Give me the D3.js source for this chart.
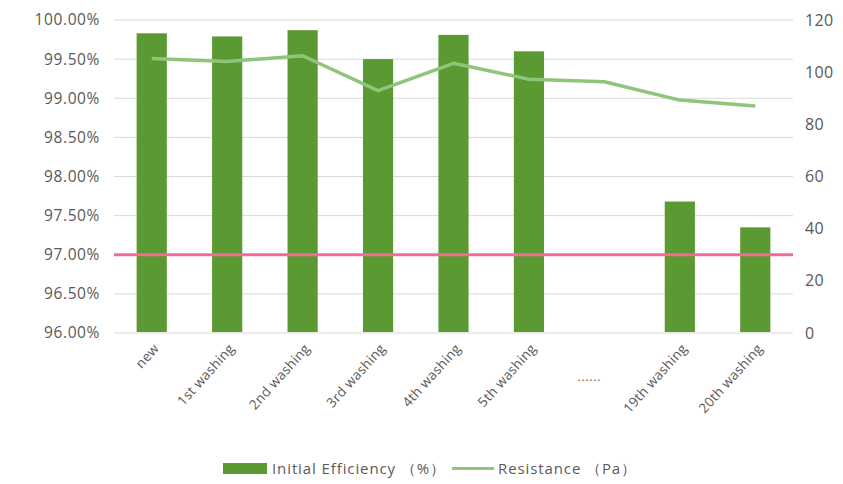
<!DOCTYPE html>
<html><head><meta charset="utf-8">
<script src="https://cdn.jsdelivr.net/npm/d3@7"></script>
<style>body{margin:0;background:#fff}svg{display:block}text{font-family:"Open Sans",sans-serif;fill:#595959}</style>
</head><body><svg id="c" width="843" height="484"></svg>
<script>
const categories = ["new","1st washing","2nd washing","3rd washing","4th washing","5th washing","......","19th washing","20th washing"];
const efficiency = [99.83,99.79,99.87,99.50,99.81,99.60,null,97.68,97.35];
const resistance = [105.2,104.1,106.3,92.9,103.4,97.3,96.3,89.3,87.0];
const leftTicks = [96,96.5,97,97.5,98,98.5,99,99.5,100];
const rightTicks = [0,20,40,60,80,100,120];
const threshold = 97;

const svg = d3.select("#c");
const L=114, R=793, T=20, B=333;
const x = d3.scaleBand().domain(categories).range([L,R]).paddingInner(0.6).paddingOuter(0.3);
const yL = d3.scaleLinear().domain([96,100]).range([B,T]);
const yR = d3.scaleLinear().domain([0,120]).range([B,T]);

// gridlines
svg.append("g").selectAll("line").data(leftTicks).join("line")
  .attr("x1",L).attr("x2",R).attr("y1",d=>yL(d)).attr("y2",d=>yL(d))
  .attr("stroke","#d9d9d9").attr("stroke-width",1);

// left axis labels
const axL = d3.axisLeft(yL).tickValues(leftTicks).tickFormat(d=>d.toFixed(2)+"%").tickSize(0).tickPadding(14);
const gL = svg.append("g").attr("transform",`translate(${L},0)`).call(axL);
gL.select(".domain").remove();
gL.selectAll("text").attr("font-size",15.5).attr("letter-spacing",0.6).style("fill","#595959").attr("font-family","'Open Sans',sans-serif");

const axR = d3.axisRight(yR).tickValues(rightTicks).tickSize(0).tickPadding(12);
const gR = svg.append("g").attr("transform",`translate(${R},0)`).call(axR);
gR.select(".domain").remove();
gR.selectAll("text").attr("font-size",16).attr("letter-spacing",0.4).style("fill","#595959").attr("font-family","'Open Sans',sans-serif");

// bars
svg.append("g").selectAll("rect").data(categories.map((c,i)=>({c,v:efficiency[i]})).filter(d=>d.v!=null)).join("rect")
  .attr("x",d=>x(d.c)).attr("width",x.bandwidth())
  .attr("y",d=>yL(d.v)).attr("height",d=>B-1-yL(d.v))
  .attr("fill","#5b9a32");

// threshold line
svg.append("line").attr("x1",L).attr("x2",R).attr("y1",yL(threshold)).attr("y2",yL(threshold))
  .attr("stroke","#f06b98").attr("stroke-width",3);

// resistance line
const line = d3.line().x((d,i)=>x(categories[i])+x.bandwidth()/2).y(d=>yR(d));
svg.append("path").datum(resistance).attr("d",line).attr("fill","none")
  .attr("stroke","#8fc57a").attr("stroke-width",3.5).attr("stroke-linejoin","round");

// x labels
const gx = svg.append("g");
categories.forEach(c=>{
  const cx = x(c)+x.bandwidth()/2;
  if(c==="......"){
    gx.append("text").attr("x",cx-15).attr("y",381).attr("text-anchor","middle").attr("font-size",12).attr("letter-spacing",0.8).text(c);
  } else {
    gx.append("text").attr("transform",`translate(${cx+8},${349}) rotate(-48)`)
      .attr("text-anchor","end").attr("font-size",13.5).attr("letter-spacing",0.3).text(c);
  }
});

// legend
const lg = svg.append("g");
lg.append("rect").attr("x",223).attr("y",463).attr("width",44).attr("height",11).attr("fill","#5b9a32");
lg.append("text").attr("x",272).attr("y",474).attr("font-size",15).attr("letter-spacing",0.9).text("Initial Efficiency \uFF08%\uFF09");
lg.append("line").attr("x1",452).attr("x2",494).attr("y1",468.5).attr("y2",468.5).attr("stroke","#8fc57a").attr("stroke-width",3);
lg.append("text").attr("x",498).attr("y",474).attr("font-size",15).attr("letter-spacing",0.9).text("Resistance \uFF08Pa\uFF09");
</script></body></html>
